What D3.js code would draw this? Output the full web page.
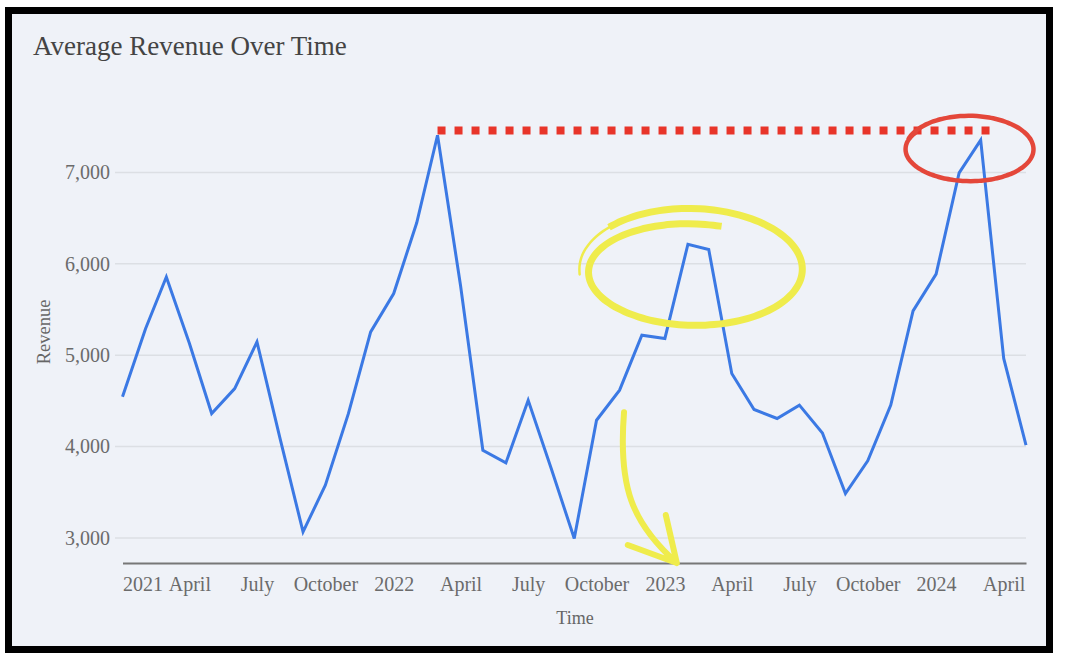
<!DOCTYPE html>
<html>
<head>
<meta charset="utf-8">
<script src="https://cdn.jsdelivr.net/npm/d3@7"></script>
<style>
body { margin: 0; background: #fff; }
text { font-family: "Liberation Serif", "Times New Roman", serif; }
</style>
</head>
<body>
<svg width="1078" height="668"></svg>
<script>
// monthly average revenue, Jan 2021 .. May 2024
var startMonth = "2021-01-01";
var revenue = [4544, 5290, 5857, 5130, 4362, 4635, 5146, 4090, 3066, 3577, 4360, 5255,
               5675, 6450, 7408, 5760, 3960, 3821, 4507, 3760, 2993, 4288, 4617, 5219,
               5183, 6215, 6157, 4800, 4406, 4307, 4453, 4149, 3486, 3843, 4453, 5485,
               5887, 6996, 7354, 4964, 4015];
var yTicks = [3000, 4000, 5000, 6000, 7000];
var xTickLabels = ["2021", "April", "July", "October", "2022", "April", "July", "October",
                   "2023", "April", "July", "October", "2024", "April"];

// hand drawn marks, placed in data space
var peakLine = {from: "2022-03-01", to: "2024-03-15", value: 7460};
var redCircle = {date: "2024-02-15", value: 7255};
var yellowCircle = {date: "2023-02-08", value: 5950};
var yellowArrow = {from: {date: "2022-11-07", value: 4376}, to: {date: "2023-01-17", value: 2725}};

var parse = d3.timeParse("%Y-%m-%d");
var t0 = parse(startMonth);
var data = revenue.map(function(v, i) {
    return {date: d3.timeMonth.offset(t0, i), value: v};
});

var svg = d3.select("svg");

// frame
svg.append("rect")
   .attr("x", 8.5).attr("y", 10.5)
   .attr("width", 1041).attr("height", 639)
   .attr("fill", "#eff2f8")
   .attr("stroke", "#000")
   .attr("stroke-width", 7);

var x = d3.scaleTime()
          .domain(d3.extent(data, function(d) { return d.date; }))
          .range([122.5, 1026]);
var y = d3.scaleLinear().domain([2725, 7000]).range([563, 172.5]);

// title
svg.append("text")
   .attr("x", 33).attr("y", 55)
   .attr("fill", "#444")
   .style("font-size", "27px")
   .text("Average Revenue Over Time");

// gridlines
svg.append("g").selectAll("line")
   .data(yTicks)
   .enter().append("line")
   .attr("x1", 115).attr("x2", 1026)
   .attr("y1", function(d) { return y(d); })
   .attr("y2", function(d) { return y(d); })
   .attr("stroke", "#dcdfe4")
   .attr("stroke-width", 1.5);

// y axis
var gy = svg.append("g")
    .attr("transform", "translate(113,0)")
    .call(d3.axisLeft(y).tickValues(yTicks).tickSize(0).tickFormat(d3.format(",")));
gy.select(".domain").remove();
gy.selectAll("text")
  .attr("fill", "#6b6b6b")
  .style("font-size", "20px")
  .style("font-family", "'Liberation Serif', serif");

// x axis
var tickDates = d3.timeMonth.every(3).range(x.domain()[0], d3.timeDay.offset(x.domain()[1], 1));
var gx = svg.append("g")
    .attr("transform", "translate(0,563)")
    .call(d3.axisBottom(x).tickValues(tickDates).tickSize(0).tickSizeOuter(0)
            .tickFormat(function(d, i) { return xTickLabels[i]; }));
gx.select(".domain").attr("stroke", "#777").attr("stroke-width", 2);
gx.selectAll("text")
  .attr("y", 28).attr("dy", 0)
  .attr("fill", "#6b6b6b")
  .style("font-size", "20px")
  .style("font-family", "'Liberation Serif', serif")
  .attr("text-anchor", function(d, i) { return i === 0 ? "start" : "middle"; });

// axis titles
svg.append("text")
   .attr("transform", "translate(50,332) rotate(-90)")
   .attr("text-anchor", "middle")
   .attr("fill", "#666")
   .style("font-size", "18.5px")
   .text("Revenue");
svg.append("text")
   .attr("x", 575).attr("y", 624)
   .attr("text-anchor", "middle")
   .attr("fill", "#666")
   .style("font-size", "18px")
   .text("Time");

// the series
var line = d3.line()
             .x(function(d) { return x(d.date); })
             .y(function(d) { return y(d.value); });
svg.append("path")
   .datum(data)
   .attr("d", line)
   .attr("fill", "none")
   .attr("stroke", "#3b79e4")
   .attr("stroke-width", 3)
   .attr("stroke-linejoin", "miter");

// red dotted peak line
svg.append("line")
   .attr("x1", x(parse(peakLine.from))).attr("x2", x(parse(peakLine.to)))
   .attr("y1", y(peakLine.value)).attr("y2", y(peakLine.value))
   .attr("stroke", "#e8352a")
   .attr("stroke-width", 8)
   .attr("stroke-dasharray", "8,9");

var loop = d3.line().curve(d3.curveBasis);

// red circle
var rcx = x(parse(redCircle.date)), rcy = y(redCircle.value);
var redPts = d3.range(0, 1.0001, 0.01).map(function(t) {
    var th = Math.PI * 1.1 + t * Math.PI * 2.08;
    var rx = 64, ry = 34 - 3 * t;
    return [rcx + rx * Math.cos(th), rcy + ry * Math.sin(th)];
});
svg.append("path")
   .attr("d", loop(redPts))
   .attr("fill", "none")
   .attr("stroke", "#e4473a")
   .attr("stroke-width", 4.5)
   .attr("stroke-linecap", "round");

// yellow circle
var ycx = x(parse(yellowCircle.date)), ycy = y(yellowCircle.value);
function spiral(a, b) {
    return d3.range(a, b + 0.0001, 0.01).map(function(t) {
        var th = Math.PI * 0.97 + t * Math.PI * 2.62;
        var rx = 114 - 12 * t, ry = 64 - 16 * t;
        return [ycx + rx * Math.cos(th), ycy + 4 * t + ry * Math.sin(th)];
    });
}
svg.append("path")
   .attr("d", loop(spiral(0, 0.14)))
   .attr("fill", "none")
   .attr("stroke", "#efec4c")
   .attr("stroke-width", 2.5)
   .attr("stroke-linecap", "round");
svg.append("path")
   .attr("d", loop(spiral(0.1, 1)))
   .attr("fill", "none")
   .attr("stroke", "#efec4c")
   .attr("stroke-width", 7)
   .attr("stroke-linecap", "butt");

// yellow arrow
var ax0 = x(parse(yellowArrow.from.date)), ay0 = y(yellowArrow.from.value);
var ax1 = x(parse(yellowArrow.to.date)), ay1 = y(yellowArrow.to.value);
var arrow = d3.path();
arrow.moveTo(ax0, ay0);
arrow.bezierCurveTo(ax0 - 6, ay0 + 75, ax0 + 8, ay1 - 40, ax1, ay1);
arrow.moveTo(ax1 - 49, ay1 - 18);
arrow.lineTo(ax1, ay1);
arrow.moveTo(ax1 - 11, ay1 - 48);
arrow.lineTo(ax1, ay1);
svg.append("path")
   .attr("d", arrow.toString())
   .attr("fill", "none")
   .attr("stroke", "#efec4c")
   .attr("stroke-width", 6)
   .attr("stroke-linecap", "round")
   .attr("stroke-linejoin", "round");
</script>
</body>
</html>
